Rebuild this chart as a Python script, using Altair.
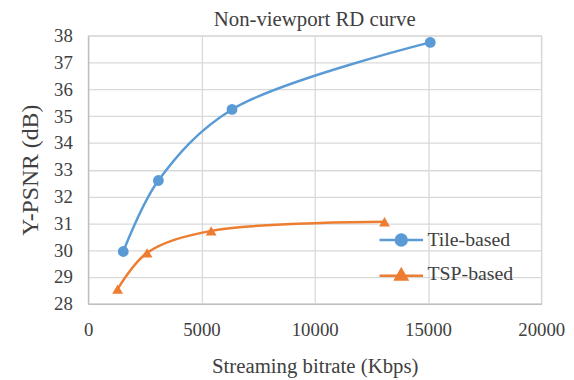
import altair as alt
import pandas as pd

series_names = ["Tile-based", "TSP-based"]
tile_x = [1550, 3100, 6350, 15100]
tile_y = [29.95, 32.6, 35.25, 37.75]
tsp_x = [1300, 2600, 5430, 13080]
tsp_y = [28.55, 29.9, 30.72, 31.06]

colors = ["#5B9BD5", "#ED7D31"]
shapes = ["circle", "triangle-up"]

rows = []
for s, xs, ys in [(series_names[0], tile_x, tile_y), (series_names[1], tsp_x, tsp_y)]:
    for i, (a, b) in enumerate(zip(xs, ys)):
        rows.append({"series": s, "bitrate": a, "psnr": b, "order": i})
df = pd.DataFrame(rows)

FONT = "Liberation Serif"
TXT = "#404040"

x_enc = alt.X("bitrate:Q", title="Streaming bitrate (Kbps)",
              scale=alt.Scale(domain=[0, 20000], nice=False),
              axis=alt.Axis(values=[0, 5000, 10000, 15000, 20000], format="d",
                            labelFont=FONT, titleFont=FONT, labelFlush=False,
                            titleFontSize=21))
y_enc = alt.Y("psnr:Q", title="Y-PSNR (dB)",
              scale=alt.Scale(domain=[28, 38], nice=False, zero=False),
              axis=alt.Axis(values=list(range(28, 39)), labelFont=FONT, titleFont=FONT,
                            labelFlush=False, titleFontSize=24))

circle_path = "M-1,0L1,0M0.25,0A0.25,0.25 0 1,1 -0.25,0A0.25,0.25 0 1,1 0.25,0Z"
tri_path = "M-1,0.1L1,0.1M0,-0.2L0.27,0.27L-0.27,0.27Z"

sym_expr = f"datum.value == '{series_names[0]}' ? '{circle_path}' : '{tri_path}'"
fill_expr = f"datum.value == '{series_names[0]}' ? '{colors[0]}' : '{colors[1]}'"

legend = alt.Legend(
    title=None, orient="none", legendX=293, legendY=183,
    labelFont=FONT, labelFontSize=20, labelColor=TXT,
    symbolSize=1936, symbolStrokeWidth=2.5, rowPadding=-10, labelOffset=3,
    symbolType=alt.ExprRef(sym_expr), symbolFillColor=alt.ExprRef(fill_expr),
)

color_scale = alt.Scale(domain=series_names, range=colors)
base = alt.Chart(df)

lines = base.mark_line(interpolate="catmull-rom", strokeWidth=2.5).encode(
    x=x_enc, y=y_enc,
    color=alt.Color("series:N", scale=color_scale, legend=legend),
    order="order:Q")

point_layers = []
for name, shp in zip(series_names, shapes):
    point_layers.append(
        base.transform_filter(alt.datum.series == name).mark_point(
            filled=True, opacity=1, size=120, shape=shp).encode(
            x=x_enc, y=y_enc,
            color=alt.Color("series:N", scale=color_scale, legend=None)))

chart = alt.layer(lines, *point_layers).properties(
    width=458, height=271,
    title=alt.TitleParams("Non-viewport RD curve", font=FONT, fontSize=21, fontWeight="normal", color=TXT, offset=-3),
    autosize=alt.AutoSizeParams(type="none"),
    padding={"left": 81, "top": 26, "right": 25, "bottom": 75},
).configure(font=FONT).configure_axis(
    labelFont=FONT, labelFontSize=19, labelColor=TXT,
    titleFont=FONT, titleFontWeight="normal", titleColor=TXT,
    gridColor="#D9D9D9", gridWidth=1.3, domainColor="#BFBFBF", domainWidth=1.3,
    ticks=False,
).configure_axisX(labelPadding=17, titlePadding=16).configure_axisY(labelPadding=16, titlePadding=11
).configure_view(stroke="#D9D9D9", strokeWidth=1.3)

chart.save("out.html", embed_options={"renderer": "svg", "actions": False})
